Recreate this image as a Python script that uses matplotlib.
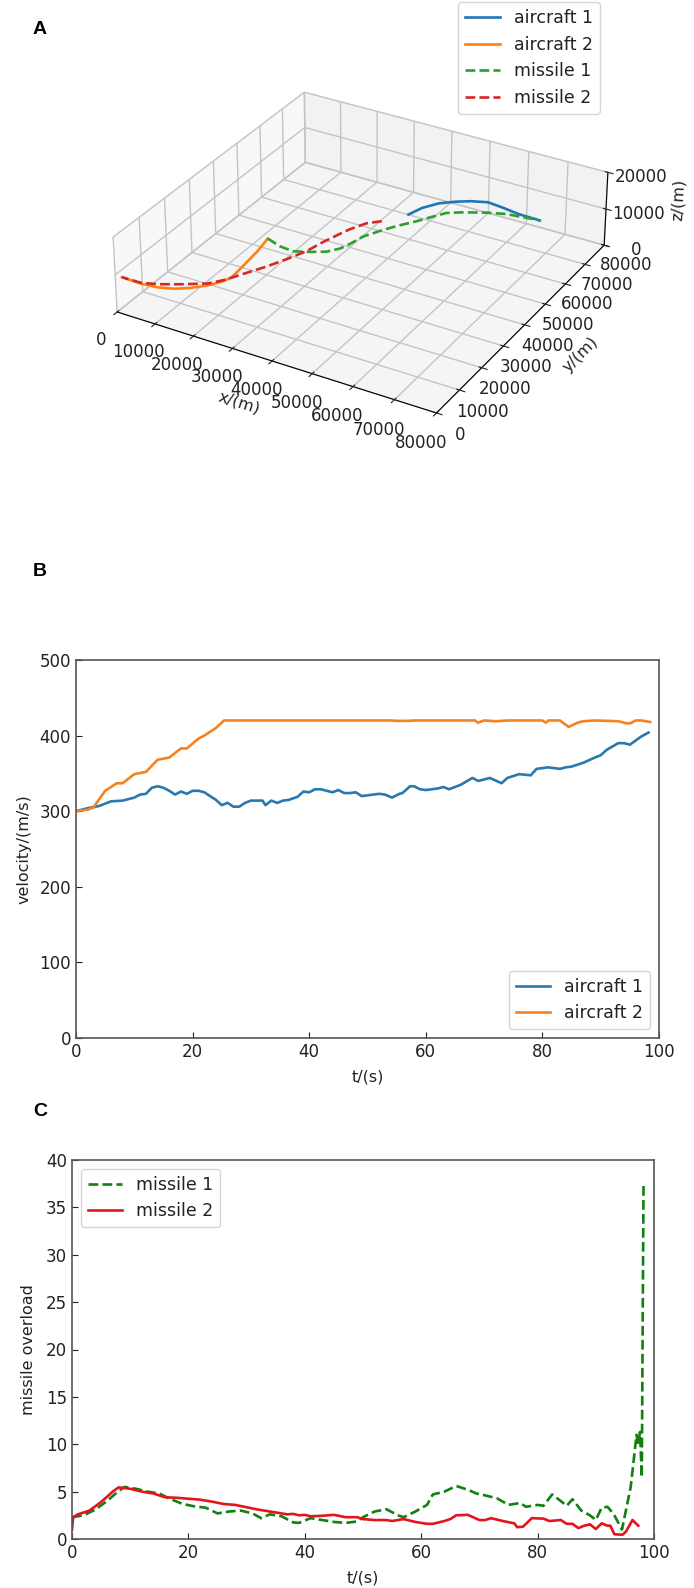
import matplotlib
matplotlib.use("Agg")
import matplotlib.pyplot as plt
from mpl_toolkits.mplot3d import Axes3D  # noqa

W, H = 694, 1588

a1_x = [41500, 42700, 45000, 47900, 50900, 54500, 58300, 63200, 68600]
a1_y = [56800, 61000, 64800, 67400, 69400, 70900, 70400, 69500, 69300]
a1_z = [9000] * 9
a2_x = [19600, 20600, 21300, 21700, 20700, 19000, 16300, 13500, 10000, 6000, 900]
a2_y = [31500, 25300, 18000, 13000, 10300, 7600, 4800, 2800, 1500, 1000, 1200]
a2_z = [9000] * 11
m1_x = [19600, 23800, 27400, 30800, 34000, 35800, 36500, 37600, 39600, 41800, 44600, 46700, 48600, 51600, 56400, 60600, 64500, 68600]
m1_y = [31500, 29900, 29500, 31100, 33100, 35700, 37600, 42900, 47000, 50900, 55000, 58600, 61700, 63800, 66400, 68100, 68700, 69300]
m1_z = [9000] * 18
m2_x = [37800, 35300, 33400, 32500, 31100, 30000, 28000, 25800, 23400, 21000, 18600, 13700, 9300, 5800, 900]
m2_y = [51100, 48600, 44400, 41400, 36400, 31100, 25800, 20800, 16200, 11500, 8300, 5100, 2600, 1300, 1200]
m2_z = [9000] * 15

v1_t = [0, 2, 4, 6, 8, 10, 11, 12, 13, 14, 15, 16, 17, 18, 19, 20, 21, 22, 23, 24, 25, 26, 27, 28, 29, 30, 31, 32, 32.5, 33.5, 34.5, 35.5, 36.5, 38, 39, 40, 41, 42, 43, 44, 45, 46, 47, 48, 49, 50, 51, 52, 53, 54.2, 55.5, 56, 57.3, 58, 59, 60, 62, 63, 64, 66, 68, 69, 71, 73, 74, 76, 78, 79, 81, 83, 84, 85, 87, 89, 90, 91, 93, 94, 95, 97, 98.2]
v1_v = [300, 304, 307, 313, 314, 318, 322, 323, 331, 333, 331, 327, 322, 326, 323, 327, 327, 325, 320, 315, 308, 311, 306, 306, 311, 314, 314, 314, 308, 314, 311, 314, 315, 319, 326, 325, 329, 329, 327, 325, 328, 324, 324, 325, 320, 321, 322, 323, 322, 318, 323, 324, 333, 333, 329, 328, 330, 332, 329, 335, 344, 340, 344, 337, 344, 349, 347.5, 356, 358, 356, 358, 359, 364, 371, 374, 381, 390, 390, 388, 399, 404]
v2_t = [0, 2, 3, 5, 6, 7, 8, 9, 10, 12, 13, 14, 16, 18, 19, 21, 22, 24, 25.4, 54, 55, 57, 58, 68.5, 68.9, 70, 72, 73, 74, 80, 80.6, 81, 83, 84.5, 86, 87, 89, 93, 94.3, 95, 96, 97, 98.5]
v2_v = [300, 302, 305, 327, 332, 337, 337, 343, 349, 352, 360, 368, 371, 383, 383, 396, 400, 410, 420, 420, 419.5, 419.5, 420, 420, 417, 420, 419, 419.5, 420, 420, 417, 420, 420, 411.5, 417, 419, 420, 419, 416.5, 416, 420, 420, 418]

ov1_t = [0, 2, 4, 6, 7.5, 9, 11, 13, 15, 17, 19, 21, 23, 25, 27, 29, 31, 32.5, 34, 36, 38, 39, 41, 43, 45, 47, 49, 50, 52, 54, 56, 57, 59, 61, 62, 64, 66, 68, 69.5, 71, 73, 75, 77, 78, 80, 81, 82.5, 84, 85, 86, 87.5, 89, 90, 91, 92, 93, 94.5, 96, 97, 97.3, 97.6, 97.9, 98.2]
ov1_v = [2.3, 2.5, 3.1, 4.0, 4.8, 5.5, 5.3, 5.0, 4.8, 4.2, 3.7, 3.45, 3.3, 2.7, 2.9, 3.0, 2.7, 2.2, 2.6, 2.4, 1.75, 1.7, 2.2, 2.0, 1.8, 1.7, 1.85, 2.3, 2.9, 3.15, 2.5, 2.3, 2.9, 3.6, 4.7, 5.0, 5.6, 5.2, 4.8, 4.6, 4.3, 3.6, 3.8, 3.4, 3.6, 3.5, 4.7, 4.0, 3.5, 4.2, 3.0, 2.5, 2.0, 3.3, 3.4, 2.7, 1.0, 5.5, 11, 10, 11.3, 6.5, 37.5]
ov2_t = [0, 0.2, 1, 3, 5, 7, 8, 10, 12, 14, 16, 18, 20, 22, 24, 26, 28, 30, 32, 34, 36, 37, 38, 39, 40, 41, 43, 45, 47, 49, 50, 52, 54, 55, 57, 59, 61, 62, 64, 65, 66, 68, 70, 71, 72, 74, 76, 76.5, 77.5, 79, 81, 82, 84, 85, 86, 87, 88, 89, 90, 91, 92, 92.5, 93.2, 94.6, 95.2, 96.3, 97.3]
ov2_v = [1.0, 2.3, 2.6, 3.0, 3.9, 5.0, 5.45, 5.3, 5.0, 4.8, 4.4, 4.35, 4.25, 4.15, 3.95, 3.7, 3.6, 3.35, 3.1, 2.9, 2.7, 2.6, 2.65, 2.5, 2.55, 2.4, 2.45, 2.55, 2.3, 2.3, 2.1, 2.0, 2.0, 1.9, 2.1, 1.8, 1.6, 1.6, 1.9, 2.1, 2.5, 2.55, 2.0, 2.0, 2.2, 1.9, 1.65, 1.25, 1.3, 2.2, 2.15, 1.9, 2.0, 1.6, 1.6, 1.15, 1.4, 1.55, 1.05, 1.65, 1.4, 1.4, 0.5, 0.45, 0.8, 2.0, 1.4]

plt.rcParams['font.size'] = 11.5
plt.rcParams['font.family'] = ['DejaVu Sans']
plt.rcParams['text.color'] = '#222222'
plt.rcParams['axes.labelcolor'] = '#222222'
plt.rcParams['xtick.color'] = '#222222'
plt.rcParams['ytick.color'] = '#222222'

fig = plt.figure(figsize=(W / 100, H / 100), dpi=100)


def rect(l, t, r, b):
    return [l / W, 1 - b / H, (r - l) / W, (b - t) / H]


# panel A
ax = fig.add_axes(rect(59, -2, 659, 498), projection='3d')
ax.view_init(elev=30, azim=-60)
ax.set_box_aspect((4, 4, 0.95), zoom=1.0)
ax.plot(a1_x, a1_y, a1_z, color='C0', lw=1.9, label='aircraft 1')
ax.plot(a2_x, a2_y, a2_z, color='C1', lw=1.9, label='aircraft 2')
ax.plot(m1_x, m1_y, m1_z, color='C2', lw=1.9, ls='--', label='missile 1')
ax.plot(m2_x, m2_y, m2_z, color='C3', lw=1.9, ls='--', label='missile 2')
ax.set_xlim(0, 80000)
ax.set_ylim(0, 80000)
ax.set_zlim(0, 20000)
ax.set_xticks(range(0, 80001, 10000))
ax.set_yticks(range(0, 80001, 10000))
ax.set_zticks([0, 10000, 20000])
ax.set_xlabel('x/(m)', labelpad=10)
ax.set_ylabel('y/(m)', labelpad=11)
ax.set_zlabel('z/(m)', labelpad=8)
ax.tick_params(axis='x', pad=7, labelsize=12)
ax.tick_params(axis='y', pad=5, labelsize=12)
ax.tick_params(axis='z', pad=5, labelsize=12)
for axis in (ax.xaxis, ax.yaxis, ax.zaxis):
    axis._axinfo['grid']['color'] = '#c4c4c4'
    axis._axinfo['grid']['linewidth'] = 1.0
fig.legend(*ax.get_legend_handles_labels(), loc='upper left',
           bbox_to_anchor=(458 / W, 1 - 2 / H), borderaxespad=0, fontsize=12.5)

# panel B
bx = fig.add_axes(rect(76, 660, 659, 1038))
bx.plot(v1_t, v1_v, color='#2a78b0', lw=1.9, label='aircraft 1')
bx.plot(v2_t, v2_v, color='#f5821f', lw=1.9, label='aircraft 2')
bx.set_xlim(0, 100)
bx.set_ylim(0, 500)
bx.set_xlabel('t/(s)', labelpad=6)
bx.set_ylabel('velocity/(m/s)', labelpad=6)
bx.legend(loc='lower right', fontsize=12.5)

# panel C
cx = fig.add_axes(rect(72, 1160, 654, 1539))
cx.plot(ov1_t, ov1_v, color='#118011', lw=1.9, ls='--', label='missile 1')
cx.plot(ov2_t, ov2_v, color='#e3141c', lw=1.9, label='missile 2')
cx.set_xlim(0, 100)
cx.set_ylim(0, 40)
cx.set_yticks(range(0, 41, 5))
cx.set_xlabel('t/(s)', labelpad=6)
cx.set_ylabel('missile overload', labelpad=7)
cx.legend(loc='upper left', fontsize=12.5)

for a in (bx, cx):
    a.tick_params(direction='in', length=4, labelsize=12)
    for s in a.spines.values():
        s.set_color('#555555')
        s.set_linewidth(1.2)

for label, x, y in [('A', 33, 29), ('B', 33, 571), ('C', 33, 1111)]:
    fig.text(x / W, 1 - y / H, label, fontsize=14, fontweight='bold',
             family=['Liberation Sans', 'DejaVu Sans'], color='black', va='center')

fig.savefig('out.png', dpi=100)
